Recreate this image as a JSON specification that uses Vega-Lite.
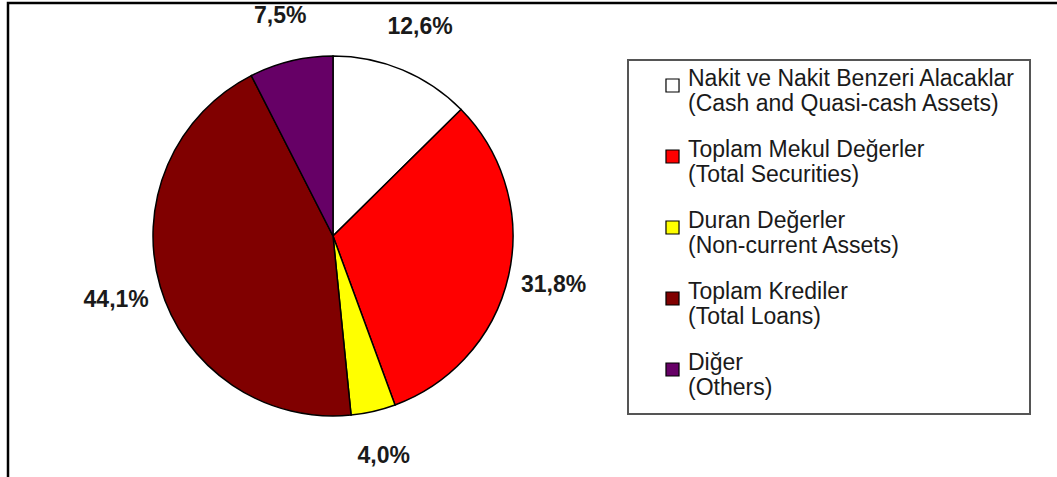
{
  "$schema": "https://vega.github.io/schema/vega-lite/v6.json",
  "width": 1079,
  "height": 504,
  "padding": {"left": 8, "top": 3, "right": -30, "bottom": -30},
  "autosize": {"type": "none"},
  "background": "white",
  "view": {"stroke": "black", "strokeWidth": 2.5},
  "config": {
    "view": {"stroke": "black", "strokeWidth": 2.5},
    "font": "Liberation Sans",
    "legend": {"strokeColor": "#555555", "strokeWidth": 2, "padding": 14}
  },
  "data": {"values": [
    {"k": 1, "cat": "Nakit ve Nakit Benzeri Alacaklar|(Cash and Quasi-cash Assets)", "value": 12.6, "label": "12,6%"},
    {"k": 2, "cat": "Toplam Mekul Değerler|(Total Securities)", "value": 31.8, "label": "31,8%"},
    {"k": 3, "cat": "Duran Değerler|(Non-current Assets)", "value": 4.0, "label": "4,0%"},
    {"k": 4, "cat": "Toplam Krediler|(Total Loans)", "value": 44.1, "label": "44,1%"},
    {"k": 5, "cat": "Diğer|(Others)", "value": 7.5, "label": "7,5%"}
  ]},
  "encoding": {
    "theta": {"field": "value", "type": "quantitative", "stack": true},
    "order": {"field": "k", "type": "quantitative"}
  },
  "layer": [
    {
      "mark": {"type": "arc", "outerRadius": 180, "stroke": "black", "strokeWidth": 1.5, "x": 325, "y": 233},
      "encoding": {
        "color": {
          "field": "cat", "type": "nominal",
          "scale": {
            "domain": [
              "Nakit ve Nakit Benzeri Alacaklar|(Cash and Quasi-cash Assets)",
              "Toplam Mekul Değerler|(Total Securities)",
              "Duran Değerler|(Non-current Assets)",
              "Toplam Krediler|(Total Loans)",
              "Diğer|(Others)"
            ],
            "range": ["#ffffff", "#ff0000", "#ffff00", "#800000", "#660066"]
          },
          "legend": {
            "orient": "none", "legendX": 620, "legendY": 57, "title": null,
            "labelExpr": "split(datum.label, '|')",
            "symbolType": "square", "symbolSize": 170, "symbolStrokeColor": "black", "symbolStrokeWidth": 1.2,
            "labelFontSize": 23, "labelFont": "Liberation Sans", "labelColor": "#1a1a1a",
            "labelOffset": 4, "rowPadding": 22, "symbolOffset": 19,
            "labelLimit": 0, "labelBaseline": "alphabetic"
          }
        }
      }
    },
    {
      "mark": {"type": "text", "radius": 226, "x": 325, "y": 233, "fontSize": 23, "fontWeight": "bold", "font": "Liberation Sans", "color": "#1a1a1a"},
      "encoding": {
        "text": {"field": "label"},
        "detail": {"field": "cat"}
      }
    }
  ]
}
